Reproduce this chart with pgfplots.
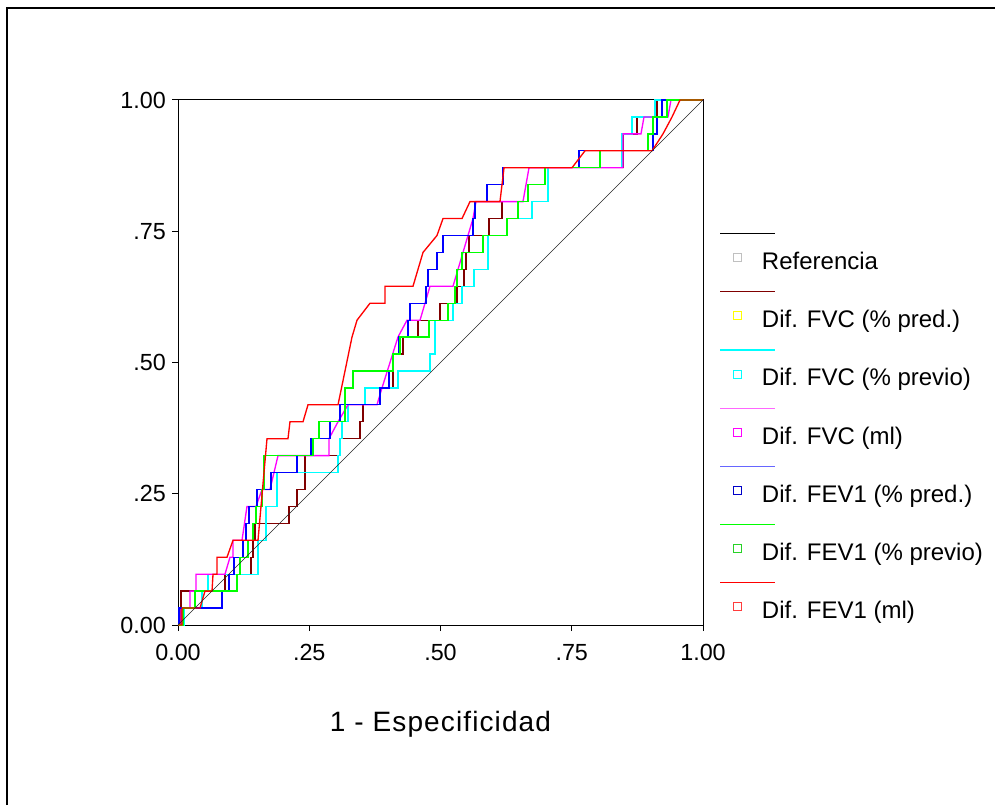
\documentclass[border=0pt]{standalone}
\usepackage{fontspec}
\setmainfont{Liberation Sans}
\usepackage{pgfplots}
\usepackage{pgfplotstable}
\pgfplotsset{compat=1.18}

\definecolor{cMaroon}{RGB}{128,0,0}
\definecolor{cCyan}{RGB}{0,255,255}
\definecolor{cMag}{RGB}{255,0,255}
\definecolor{cBlue}{RGB}{0,0,255}
\definecolor{cGreen}{RGB}{0,255,0}
\definecolor{cRed}{RGB}{255,0,0}
\definecolor{lMag}{RGB}{255,102,255}
\definecolor{lBlue}{RGB}{102,102,255}
\definecolor{mGrey}{RGB}{192,192,192}
\definecolor{mYellow}{RGB}{255,255,0}
\definecolor{mBlue}{RGB}{0,0,200}
\definecolor{mGreen}{RGB}{40,210,40}
\definecolor{mRed}{RGB}{255,60,60}

% Dif. FVC (% pred.)
\pgfplotstableread{
x y
0 0
0.0057 0
0.0057 0.0645
0.0895 0.0645
0.0895 0.0968
0.1390 0.0968
0.1390 0.1290
0.1429 0.1290
0.1429 0.1613
0.1467 0.1613
0.1467 0.1935
0.2114 0.1935
0.2114 0.2258
0.2267 0.2258
0.2267 0.2581
0.2419 0.2581
0.2419 0.3226
0.3086 0.3226
0.3086 0.3548
0.3467 0.3548
0.3467 0.3871
0.3524 0.3871
0.3524 0.4194
0.3848 0.4194
0.3848 0.4516
0.4095 0.4516
0.4095 0.5161
0.4286 0.5161
0.4286 0.5484
0.4571 0.5484
0.4571 0.5806
0.4990 0.5806
0.4990 0.6129
0.5314 0.6129
0.5314 0.6452
0.5448 0.6452
0.5448 0.6774
0.5486 0.6774
0.5486 0.7097
0.5543 0.7097
0.5543 0.7419
0.5924 0.7419
0.5924 0.7742
0.6171 0.7742
0.6171 0.8065
0.6667 0.8065
0.6667 0.8387
0.6990 0.8387
0.6990 0.8710
0.8476 0.8710
0.8476 0.9355
0.8743 0.9355
0.8743 0.9677
0.9124 0.9677
0.9124 1
1 1
}\tFVCpred

% Dif. FVC (% previo)
\pgfplotstableread{
x y
0 0
0.0114 0
0.0114 0.0323
0.0457 0.0323
0.0457 0.0645
0.0571 0.0645
0.0571 0.0968
0.1524 0.0968
0.1524 0.1613
0.1676 0.1613
0.1676 0.2258
0.1886 0.2258
0.1886 0.2903
0.3048 0.2903
0.3048 0.3226
0.3086 0.3226
0.3086 0.3548
0.3124 0.3548
0.3124 0.3871
0.3238 0.3871
0.3238 0.4194
0.3562 0.4194
0.3562 0.4516
0.4190 0.4516
0.4190 0.4839
0.4800 0.4839
0.4800 0.5161
0.4895 0.5161
0.4895 0.5806
0.5238 0.5806
0.5238 0.6129
0.5410 0.6129
0.5410 0.6452
0.5638 0.6452
0.5638 0.6774
0.5905 0.6774
0.5905 0.7419
0.6267 0.7419
0.6267 0.7742
0.6743 0.7742
0.6743 0.8065
0.7048 0.8065
0.7048 0.8710
0.8457 0.8710
0.8457 0.9355
0.8648 0.9355
0.8648 0.9677
0.9086 0.9677
0.9086 1
1 1
}\tFVCprev

% Dif. FVC (ml)
\pgfplotstableread{
x y
0 0
0.0057 0
0.0057 0.0323
0.0229 0.0323
0.0229 0.0645
0.0343 0.0645
0.0343 0.0968
0.0895 0.0968
0.0990 0.1290
0.1048 0.1290
0.1048 0.1613
0.1219 0.1613
0.1314 0.2258
0.1486 0.2258
0.1600 0.2581
0.1752 0.2581
0.1905 0.3226
0.2876 0.3226
0.2876 0.3548
0.3048 0.3871
0.3238 0.4194
0.3790 0.4194
0.3886 0.4516
0.4190 0.5484
0.4362 0.5806
0.4610 0.5806
0.4800 0.6452
0.5238 0.6452
0.5619 0.7742
0.5676 0.8065
0.6571 0.8065
0.6686 0.8710
0.8476 0.8710
0.8476 0.9355
0.8819 0.9355
0.8876 0.9677
0.9333 0.9677
0.9390 1
1 1
}\tFVCml

% Dif. FEV1 (% pred.)
\pgfplotstableread{
x y
0 0
0.0019 0
0.0019 0.0323
0.0838 0.0323
0.0838 0.0645
0.0971 0.0645
0.0971 0.0968
0.1067 0.0968
0.1067 0.1290
0.1238 0.1290
0.1238 0.1613
0.1295 0.1613
0.1295 0.1935
0.1352 0.1935
0.1352 0.2258
0.1505 0.2258
0.1505 0.2581
0.1771 0.2581
0.1771 0.2903
0.2267 0.2903
0.2267 0.3226
0.2533 0.3226
0.2533 0.3548
0.2895 0.3548
0.2895 0.3871
0.3086 0.3871
0.3086 0.4194
0.3848 0.4194
0.3848 0.4516
0.4019 0.4516
0.4019 0.4839
0.4095 0.4839
0.4095 0.5161
0.4210 0.5161
0.4210 0.5484
0.4381 0.5484
0.4381 0.5806
0.4419 0.5806
0.4419 0.6129
0.4724 0.6129
0.4724 0.6452
0.4762 0.6452
0.4762 0.6774
0.4933 0.6774
0.4933 0.7097
0.5048 0.7097
0.5048 0.7419
0.5619 0.7419
0.5619 0.7742
0.5657 0.7742
0.5657 0.8065
0.5886 0.8065
0.5886 0.8387
0.6190 0.8387
0.6190 0.8710
0.7638 0.8710
0.7638 0.9032
0.9048 0.9032
0.9048 0.9355
0.9124 0.9355
0.9124 0.9677
0.9219 0.9677
0.9219 1
1 1
}\tFEVpred

% Dif. FEV1 (% previo)
\pgfplotstableread{
x y
0 0
0.0095 0
0.0095 0.0323
0.0324 0.0323
0.0324 0.0645
0.1124 0.0645
0.1124 0.0968
0.1181 0.0968
0.1181 0.1290
0.1333 0.1290
0.1333 0.1613
0.1429 0.1613
0.1429 0.1935
0.1486 0.1935
0.1486 0.2258
0.1600 0.2258
0.1600 0.2581
0.1638 0.2581
0.1638 0.3226
0.2571 0.3226
0.2571 0.3548
0.2686 0.3548
0.2686 0.3871
0.3181 0.3871
0.3181 0.4516
0.3333 0.4516
0.3333 0.4839
0.4095 0.4839
0.4095 0.5161
0.4229 0.5161
0.4229 0.5484
0.4781 0.5484
0.4781 0.5806
0.5143 0.5806
0.5143 0.6129
0.5276 0.6129
0.5276 0.6452
0.5314 0.6452
0.5314 0.6774
0.5410 0.6774
0.5410 0.7097
0.5810 0.7097
0.5810 0.7419
0.6267 0.7419
0.6267 0.7742
0.6476 0.7742
0.6476 0.8065
0.6667 0.8065
0.6667 0.8387
0.6990 0.8387
0.6990 0.8710
0.8038 0.8710
0.8038 0.9032
0.8952 0.9032
0.8952 0.9355
0.9048 0.9355
0.9048 0.9677
0.9314 0.9677
0.9314 1
1 1
}\tFEVprev

% Dif. FEV1 (ml)
\pgfplotstableread{
x y
0 0
0.0076 0
0.0076 0.0323
0.0419 0.0323
0.0514 0.0645
0.0648 0.0645
0.0667 0.0968
0.0743 0.0968
0.0743 0.1290
0.0933 0.1290
0.1048 0.1613
0.1524 0.1613
0.1695 0.3548
0.2095 0.3548
0.2133 0.3871
0.2381 0.3871
0.2476 0.4194
0.3048 0.4194
0.3314 0.5484
0.3410 0.5806
0.3657 0.6129
0.3943 0.6129
0.3943 0.6452
0.4476 0.6452
0.4667 0.7097
0.4933 0.7419
0.5048 0.7742
0.5410 0.7742
0.5562 0.8065
0.6133 0.8065
0.6210 0.8710
0.7505 0.8710
0.7752 0.9032
0.9029 0.9032
0.9238 0.9355
0.9410 0.9677
0.9562 1
1 1
}\tFEVml

% Referencia
\pgfplotstableread{
x y
0 0
1 1
}\tRef

\pgfplotsset{
  legimg/.style 2 args={
    legend image code/.code={%
      \draw[overlay, line width=0.8pt, draw=#1, fill=none] (-13pt,22.5pt) -- (28.3pt,22.5pt);
      \draw[overlay, line width=0.7pt, draw=#2, fill=none] (-3pt,1.5pt) rectangle (3pt,7.5pt);
      \path[draw=none, fill=none] (-4pt,-4pt) rectangle (4pt,4pt);
    }
  }
}

\begin{document}
\begin{tikzpicture}
\begin{axis}[
  scale only axis,
  width=393.75pt, height=393.75pt,
  xmin=0, xmax=1, ymin=0, ymax=1,
  clip=false,
  axis line style={black, line width=0.75pt},
  tick align=outside,
  xtick pos=bottom, ytick pos=left,
  major tick length=4.5pt,
  tick style={black, line width=0.75pt},
  xtick={0,0.25,0.5,0.75,1},
  xticklabels={0.00,.25,.50,.75,1.00},
  ytick={0,0.25,0.5,0.75,1},
  yticklabels={0.00,.25,.50,.75,1.00},
  ticklabel style={font=\fontsize{17.5}{21}\selectfont},
  xticklabel style={anchor=base, yshift=-21.75pt},
  yticklabel style={anchor=east, inner sep=0pt, xshift=-4.5pt},
  xlabel={1 - Especificidad},
  xlabel style={font=\fontsize{21}{25}\selectfont\addfontfeature{LetterSpace=4}, at={(axis description cs:0.5,-0.2019)}, anchor=base},
  legend style={at={(1.0552,0.7105)}, anchor=north west, draw=none, fill=none,
    inner sep=0pt, row sep=26.65pt, /tikz/column sep=14.3pt,
    nodes={inner sep=0pt, text height=13pt, text depth=4pt, font=\fontsize{18}{21.6}\selectfont}},
  legend cell align=left,
]
\addlegendimage{legimg={black}{mGrey}}
\addlegendentry{Referencia}
\addlegendimage{legimg={cMaroon}{mYellow}}
\addlegendentry{Dif. FVC (\% pred.)}
\addlegendimage{legimg={cCyan}{cCyan}}
\addlegendentry{Dif. FVC (\% previo)}
\addlegendimage{legimg={lMag}{cMag}}
\addlegendentry{Dif. FVC (ml)}
\addlegendimage{legimg={lBlue}{mBlue}}
\addlegendentry{Dif. FEV1 (\% pred.)}
\addlegendimage{legimg={cGreen}{mGreen}}
\addlegendentry{Dif. FEV1 (\% previo)}
\addlegendimage{legimg={cRed}{mRed}}
\addlegendentry{Dif. FEV1 (ml)}

\addplot[forget plot, cMaroon, line width=1pt] table {\tFVCpred};
\addplot[forget plot, cCyan, line width=1pt] table {\tFVCprev};
\addplot[forget plot, cMag, line width=1pt] table {\tFVCml};
\addplot[forget plot, cBlue, line width=1pt] table {\tFEVpred};
\addplot[forget plot, cGreen, line width=1pt] table {\tFEVprev};
\addplot[forget plot, cRed, line width=1pt] table {\tFEVml};
\addplot[forget plot, black!85, line width=0.5pt] table {\tRef};

\coordinate (BB1) at (rel axis cs:-0.33905,-0.34286);
\coordinate (BB2) at (rel axis cs:1.55619,1.19048);
\coordinate (FR1) at (rel axis cs:-0.32571,-0.34286);
\coordinate (FR2) at (rel axis cs:-0.32571,1.17524);
\coordinate (FR3) at (rel axis cs:1.55619,1.17524);
\end{axis}
\draw[black, line width=1.3pt] (FR1) -- (FR2) -- (FR3);
\pgfresetboundingbox
\path (BB1) rectangle (BB2);
\end{tikzpicture}
\end{document}
